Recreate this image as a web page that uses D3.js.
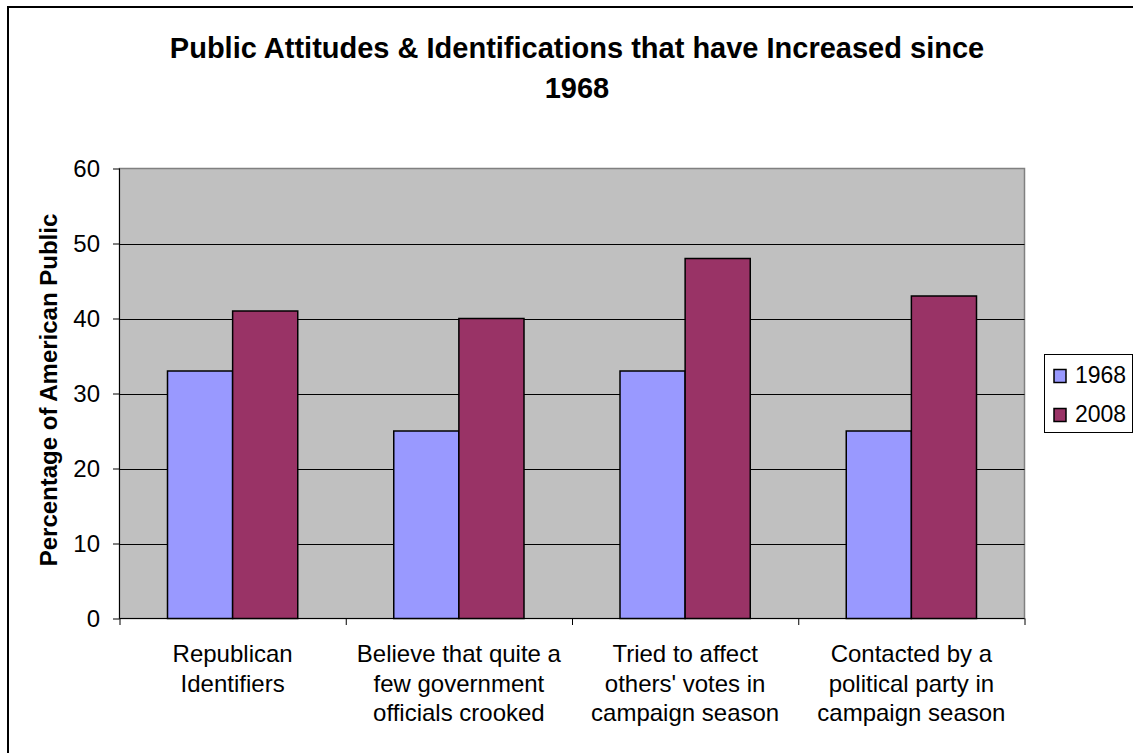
<!DOCTYPE html>
<html lang="en">
<head>
    <meta charset="utf-8">
    <title>public attitudes</title>
    <script src="https://cdn.jsdelivr.net/npm/d3@7"></script>
    <style>
        body { margin: 0; background: #fff; }
        svg { display: block; font-family: "Liberation Sans", Arial, sans-serif; }
    </style>
</head>
<body>
    <script>
        var categories = [
            ['Republican', 'Identifiers'],
            ['Believe that quite a', 'few government', 'officials crooked'],
            ['Tried to affect', "others' votes in", 'campaign season'],
            ['Contacted by a', 'political party in', 'campaign season']];
        var seriesNames = ['1968', '2008'];
        var values1968 = [33, 25, 33, 25];
        var values2008 = [41, 40, 48, 43];
        var yTicks = [0, 10, 20, 30, 40, 50, 60];
        var colors = ['#9999ff', '#993366'];

        var width = 1133, height = 753;
        var plot = { left: 119.5, right: 1024.5, top: 168.5, bottom: 618.5 };

        var svg = d3.select('body').append('svg')
            .attr('width', width)
            .attr('height', height);

        // outer chart border (cut off at right/bottom)
        svg.append('rect')
            .attr('x', 8).attr('y', 7)
            .attr('width', 1200).attr('height', 800)
            .attr('fill', 'none').attr('stroke', '#000').attr('stroke-width', 2);

        var x0 = d3.scaleBand()
            .domain(d3.range(categories.length))
            .range([plot.left, plot.right]);
        var x1 = d3.scaleBand()
            .domain(seriesNames)
            .range([48, x0.bandwidth() - 48]);
        var y = d3.scaleLinear().domain([0, 60]).range([plot.bottom, plot.top]);

        // plot background
        svg.append('rect')
            .attr('x', plot.left).attr('y', plot.top)
            .attr('width', plot.right - plot.left).attr('height', plot.bottom - plot.top)
            .attr('fill', '#c0c0c0').attr('stroke', '#808080').attr('stroke-width', 1.5);

        // gridlines
        svg.append('g').selectAll('line')
            .data(yTicks.filter(function (d) { return d > 0 && d < 60; }))
            .enter().append('line')
            .attr('x1', plot.left).attr('x2', plot.right)
            .attr('y1', function (d) { return Math.round(y(d)) + 0.5; })
            .attr('y2', function (d) { return Math.round(y(d)) + 0.5; })
            .attr('stroke', '#000').attr('stroke-width', 1);

        // bars
        var rows = seriesNames.map(function (s, i) {
            return { name: s, color: colors[i], vals: i === 0 ? values1968 : values2008 };
        });
        rows.forEach(function (r) {
            svg.append('g').selectAll('rect')
                .data(r.vals)
                .enter().append('rect')
                .attr('x', function (d, i) { return x0(i) + x1(r.name); })
                .attr('y', function (d) { return y(d); })
                .attr('width', x1.bandwidth())
                .attr('height', function (d) { return y(0) - y(d); })
                .attr('fill', r.color)
                .attr('stroke', '#000').attr('stroke-width', 1.5);
        });

        // y axis
        var yAxis = d3.axisLeft(y).tickValues(yTicks).tickSize(6.5).tickPadding(13);
        var gy = svg.append('g')
            .attr('transform', 'translate(' + plot.left + ',0)')
            .call(yAxis);
        gy.select('.domain').attr('stroke', '#000').attr('d', 'M0,' + plot.top + 'V' + plot.bottom);
        gy.selectAll('text').style('font-size', '24px').attr('fill', '#000').attr('dy', '0.35em');

        // x axis
        var xAxis = d3.axisBottom(d3.scaleLinear().domain([0, 4]).range([plot.left, plot.right]))
            .tickValues([0, 1, 2, 3, 4]).tickSize(6.5).tickFormat('');
        var gx = svg.append('g')
            .attr('transform', 'translate(0,' + plot.bottom + ')')
            .call(xAxis);
        gx.select('.domain').attr('d', 'M' + plot.left + ',0H' + plot.right).attr('stroke', '#000');

        // category labels
        var lab = svg.append('g').selectAll('text')
            .data(categories)
            .enter().append('text')
            .attr('text-anchor', 'middle')
            .style('font-size', '24px');
        lab.selectAll('tspan')
            .data(function (d, i) { return d.map(function (t) { return { t: t, i: i }; }); })
            .enter().append('tspan')
            .attr('x', function (d) { return x0(d.i) + x0.bandwidth() / 2; })
            .attr('y', function (d, j) { return 662 + j * 29.5; })
            .text(function (d) { return d.t; });

        // title
        var title = svg.append('text')
            .attr('text-anchor', 'middle')
            .style('font-size', '29px').style('font-weight', 'bold');
        title.append('tspan').attr('x', 577).attr('y', 58)
            .text('Public Attitudes & Identifications that have Increased since');
        title.append('tspan').attr('x', 577).attr('y', 98).text('1968');

        // y axis title
        svg.append('text')
            .attr('transform', 'translate(57,390) rotate(-90)')
            .attr('text-anchor', 'middle')
            .style('font-size', '24px').style('font-weight', 'bold')
            .text('Percentage of American Public');

        // legend
        var legend = svg.append('g');
        legend.append('rect')
            .attr('x', 1044.5).attr('y', 354.5).attr('width', 88).attr('height', 78)
            .attr('fill', '#fff').attr('stroke', '#000').attr('stroke-width', 1);
        var li = legend.selectAll('g.item')
            .data(rows)
            .enter().append('g')
            .attr('transform', function (d, i) { return 'translate(0,' + (i * 39) + ')'; });
        li.append('rect')
            .attr('x', 1054).attr('y', 369.5).attr('width', 12).attr('height', 13)
            .attr('fill', function (d) { return d.color; })
            .attr('stroke', '#000').attr('stroke-width', 1.5);
        li.append('text')
            .attr('x', 1075).attr('y', 383)
            .style('font-size', '23px')
            .text(function (d) { return d.name; });
    </script>
</body>
</html>
